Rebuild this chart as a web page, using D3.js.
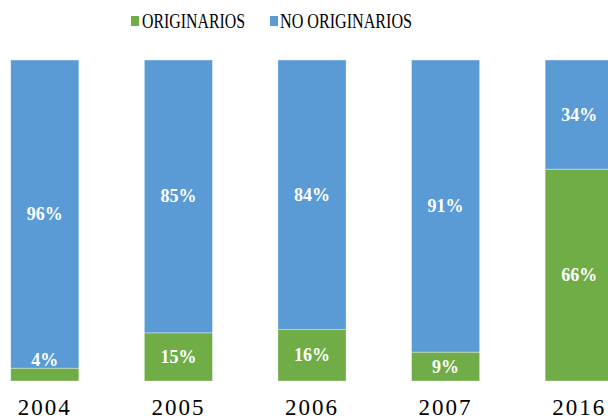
<!DOCTYPE html>
<html><head><meta charset="utf-8">
<script src="https://cdn.jsdelivr.net/npm/d3@7/dist/d3.min.js"></script>
<style>body{margin:0;background:#fff}svg{display:block}</style>
</head><body>
<svg id="c" width="608" height="419"></svg>
<script>
const years = ["2004","2005","2006","2007","2016"];
const originarios = [4,15,16,9,66];
const noOriginarios = [96,85,84,91,34];
const seriesNames = ["ORIGINARIOS","NO ORIGINARIOS"];
const colors = ["#70AD47","#5B9BD5"];
const FONT = "'Liberation Serif', 'Times New Roman', Times, serif";

const svg = d3.select("#c");
const x = d3.scaleBand().domain(years).range([-22,646]).paddingInner(0.49).paddingOuter(0.245);
const y = d3.scaleLinear().domain([0,100]).range([381,60]);

const data = years.map((yr,i)=>({year:yr, ORIGINARIOS:originarios[i], "NO ORIGINARIOS":noOriginarios[i]}));
const stack = d3.stack().keys(seriesNames)(data);

const gBars = svg.append("g");
const gLabels = svg.append("g");
stack.forEach((s,si)=>{
  gBars.selectAll(null).data(s).enter().append("rect")
    .attr("x",d=>x(d.data.year)).attr("width",x.bandwidth())
    .attr("y",d=>y(d[1])).attr("height",d=>y(d[0])-y(d[1]))
    .attr("fill",colors[si]).attr("stroke","#ffffff").attr("stroke-opacity",0.5).attr("stroke-width",0.7);
  gLabels.selectAll(null).data(s).enter().append("text")
    .attr("x",d=>x(d.data.year)+x.bandwidth()/2)
    .attr("y",d=>(d[1]-d[0])<6 ? y(d[1])-2 : (y(d[0])+y(d[1]))/2 + 6)
    .attr("text-anchor","middle").attr("fill","#fff")
    .style("font-family",FONT).attr("font-weight","bold").attr("font-size",18)
    .text(d=>(d[1]-d[0])+"%");
});

const xAxis = d3.axisBottom(x).tickSize(0).tickPadding(0);
const ax = svg.append("g").attr("transform","translate(0,415)").call(xAxis);
ax.select(".domain").remove();
ax.selectAll("text").style("font-family",FONT).attr("font-size",23)
  .attr("fill","#000").attr("letter-spacing","2px").attr("dy","0");

// legend
const leg = [{x:131,tx:142,w:103},{x:270,tx:280,w:132}];
seriesNames.forEach((n,i)=>{
  svg.append("rect").attr("x",leg[i].x).attr("y",16).attr("width",8).attr("height",10).attr("fill",colors[i]);
  svg.append("text").attr("x",leg[i].tx).attr("y",28).style("font-family",FONT)
    .attr("font-size",20).attr("fill","#000").attr("textLength",leg[i].w).attr("lengthAdjust","spacingAndGlyphs").text(n);
});
</script>
</body></html>
